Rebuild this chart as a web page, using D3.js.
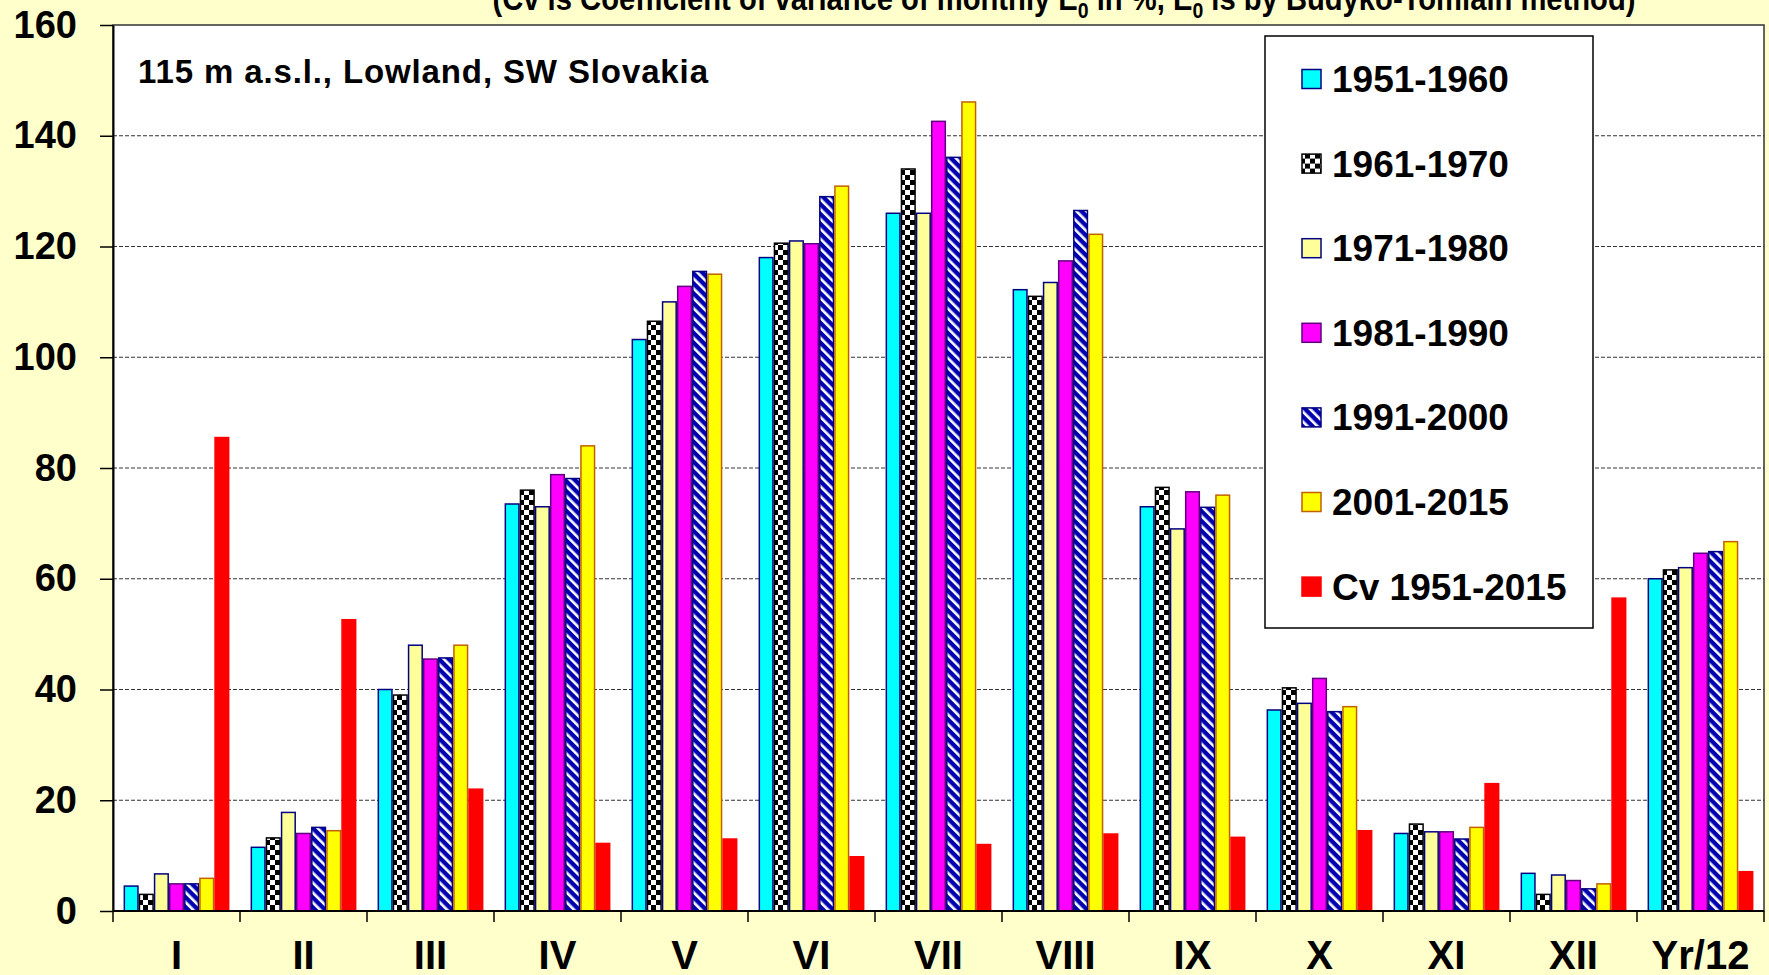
<!DOCTYPE html>
<html>
<head>
<meta charset="utf-8">
<script src="https://cdn.jsdelivr.net/npm/d3@7"></script>
<style>
  body { margin: 0; background: #ffffcc; overflow: hidden; }
  text { font-family: "Liberation Sans", Arial, sans-serif; font-weight: bold; fill: #000; }
</style>
</head>
<body>
<div id="chart"></div>
<script>
// categories (months + yearly mean / 12)
const months = ["I", "II", "III", "IV", "V", "VI", "VII", "VIII", "IX", "X", "XI", "XII", "Yr/12"];
const seriesNames = ["1951-1960", "1961-1970", "1971-1980", "1981-1990", "1991-2000", "2001-2015", "Cv 1951-2015"];
const yTicks = [0, 20, 40, 60, 80, 100, 120, 140, 160];

// values
const e1951 = [4.5, 11.5, 40, 73.5, 103.2, 118, 126, 112.2, 73, 36.3, 14, 6.8, 60];
const e1961 = [3, 13.2, 39, 76, 106.5, 120.6, 134, 111, 76.5, 40.3, 15.7, 3, 61.6];
const e1971 = [6.7, 17.8, 48, 73, 110, 121, 126, 113.5, 69, 37.5, 14.3, 6.5, 62];
const e1981 = [4.9, 14, 45.5, 78.8, 112.8, 120.5, 142.6, 117.4, 75.7, 42, 14.3, 5.5, 64.6];
const e1991 = [4.9, 15.1, 45.7, 78.1, 115.5, 129, 136.1, 126.5, 72.9, 36, 13, 4, 64.9];
const e2001 = [5.9, 14.5, 48, 84, 115, 130.9, 146.1, 122.2, 75.1, 36.9, 15.1, 4.9, 66.7];
const cv = [85.5, 52.6, 22, 12.2, 13, 9.8, 12, 13.9, 13.3, 14.5, 23, 56.5, 7.1];

const allValues = [e1951, e1961, e1971, e1981, e1991, e2001, cv];
const seriesFill = ["#00ffff", "url(#checker)", "#ffff99", "#ff00ff", "url(#stripes)", "#ffff00", "#ff0000"];
const seriesStroke = ["#000080", "#000000", "#000080", "#600080", "#000080", "#c06000", "#ff0000"];

const width = 1769, height = 975;
const plot = { left: 113, right: 1764, top: 25, bottom: 911 };

const svg = d3.select("#chart").append("svg")
  .attr("width", width)
  .attr("height", height);

svg.append("rect")
  .attr("width", width)
  .attr("height", height)
  .attr("fill", "#ffffcc");

// patterns for the two hatched series
const defs = svg.append("defs");
const checker = defs.append("pattern")
  .attr("id", "checker")
  .attr("patternUnits", "userSpaceOnUse")
  .attr("width", 10)
  .attr("height", 10);
checker.append("rect").attr("width", 10).attr("height", 10).attr("fill", "#000");
checker.append("rect").attr("width", 5).attr("height", 5).attr("fill", "#fff");
checker.append("rect").attr("x", 5).attr("y", 5).attr("width", 5).attr("height", 5).attr("fill", "#fff");

const stripes = defs.append("pattern")
  .attr("id", "stripes")
  .attr("patternUnits", "userSpaceOnUse")
  .attr("width", 7)
  .attr("height", 7)
  .attr("patternTransform", "rotate(-45)");
stripes.append("rect").attr("width", 7).attr("height", 7).attr("fill", "#0000b0");
stripes.append("rect").attr("width", 2.6).attr("height", 7).attr("fill", "#fff");

// scales
const x0 = d3.scaleBand()
  .domain(months)
  .range([plot.left, plot.right]);

const x1 = d3.scaleBand()
  .domain(seriesNames)
  .range([0, x0.bandwidth()])
  .paddingOuter(0.7);

const y = d3.scaleLinear()
  .domain([0, 160])
  .range([plot.bottom, plot.top]);

// plot area
svg.append("rect")
  .attr("x", plot.left)
  .attr("y", plot.top)
  .attr("width", plot.right - plot.left)
  .attr("height", plot.bottom - plot.top)
  .attr("fill", "#fff")
  .attr("stroke", "#333")
  .attr("stroke-width", 1.5);

// dashed gridlines
svg.append("g")
  .selectAll("line")
  .data(yTicks.filter(d => d > 0 && d < 160))
  .join("line")
  .attr("x1", plot.left)
  .attr("x2", plot.right)
  .attr("y1", d => y(d))
  .attr("y2", d => y(d))
  .attr("stroke", "#333")
  .attr("stroke-width", 1)
  .attr("stroke-dasharray", "4,2");

// bars
const rows = months.map((m, i) => ({ month: m, vals: allValues.map(a => a[i]) }));
const groups = svg.append("g")
  .selectAll("g")
  .data(rows)
  .join("g")
  .attr("transform", d => `translate(${x0(d.month)},0)`);

groups.selectAll("rect")
  .data(d => d.vals.map((v, k) => ({ name: seriesNames[k], k: k, v: v })))
  .join("rect")
  .attr("x", d => x1(d.name) + 0.75)
  .attr("y", d => y(d.v))
  .attr("width", x1.bandwidth() - 1.5)
  .attr("height", d => y(0) - y(d.v))
  .attr("fill", d => seriesFill[d.k])
  .attr("stroke", d => seriesStroke[d.k])
  .attr("stroke-width", 1.5);

// y axis
const yAxis = svg.append("g")
  .attr("transform", `translate(${plot.left},0)`)
  .call(d3.axisLeft(y).tickValues(yTicks).tickSize(13).tickSizeOuter(0).tickPadding(23));
yAxis.select(".domain").attr("stroke", "#000").attr("stroke-width", 2);
yAxis.selectAll(".tick line").attr("stroke", "#000").attr("stroke-width", 1.5);
yAxis.selectAll(".tick text")
  .attr("font-size", 38)
  .attr("font-family", "'Liberation Sans', Arial, sans-serif")
  .attr("font-weight", "bold")
  .attr("fill", "#000");

// x axis: baseline, boundary ticks, labels
svg.append("line")
  .attr("x1", plot.left)
  .attr("x2", plot.right)
  .attr("y1", y(0))
  .attr("y2", y(0))
  .attr("stroke", "#000")
  .attr("stroke-width", 2);

const bounds = months.map(m => x0(m)).concat([x0(months[months.length - 1]) + x0.bandwidth()]);
svg.append("g")
  .selectAll("line")
  .data(bounds)
  .join("line")
  .attr("x1", d => d)
  .attr("x2", d => d)
  .attr("y1", y(0))
  .attr("y2", y(0) + 11)
  .attr("stroke", "#000")
  .attr("stroke-width", 1.5);

svg.append("g")
  .selectAll("text")
  .data(months)
  .join("text")
  .attr("x", d => x0(d) + x0.bandwidth() / 2)
  .attr("y", 969)
  .attr("text-anchor", "middle")
  .attr("font-size", 40)
  .text(d => d);

// title, cut off by the top edge
const title = svg.append("text")
  .attr("x", 1064)
  .attr("y", 10)
  .attr("text-anchor", "middle")
  .attr("font-size", 33)
  .attr("textLength", 1143)
  .attr("lengthAdjust", "spacingAndGlyphs");
title.append("tspan").text("(Cv is Coefficient of variance of monthly E");
title.append("tspan").attr("font-size", 22).attr("dy", 8).text("0");
title.append("tspan").attr("dy", -8).text(" in %, E");
title.append("tspan").attr("font-size", 22).attr("dy", 8).text("0");
title.append("tspan").attr("dy", -8).text(" is by Budyko-Tomlain method)");

svg.append("text")
  .attr("x", 138)
  .attr("y", 83)
  .attr("font-size", 33)
  .attr("textLength", 570)
  .attr("lengthAdjust", "spacing")
  .text("115 m a.s.l., Lowland, SW Slovakia");

// legend
const legend = svg.append("g");
legend.append("rect")
  .attr("x", 1265)
  .attr("y", 36)
  .attr("width", 328)
  .attr("height", 592)
  .attr("fill", "#fff")
  .attr("stroke", "#000")
  .attr("stroke-width", 1.5);

const items = legend.selectAll("g")
  .data(seriesNames)
  .join("g")
  .attr("transform", (d, i) => `translate(0,${79 + i * 84.6})`);
items.append("rect")
  .attr("x", 1302)
  .attr("y", -9.5)
  .attr("width", 19)
  .attr("height", 19)
  .attr("fill", (d, i) => seriesFill[i])
  .attr("stroke", (d, i) => seriesStroke[i])
  .attr("stroke-width", 1.5);
items.append("text")
  .attr("x", 1332)
  .attr("y", 13)
  .attr("font-size", 37)
  .text(d => d);
</script>
</body>
</html>
